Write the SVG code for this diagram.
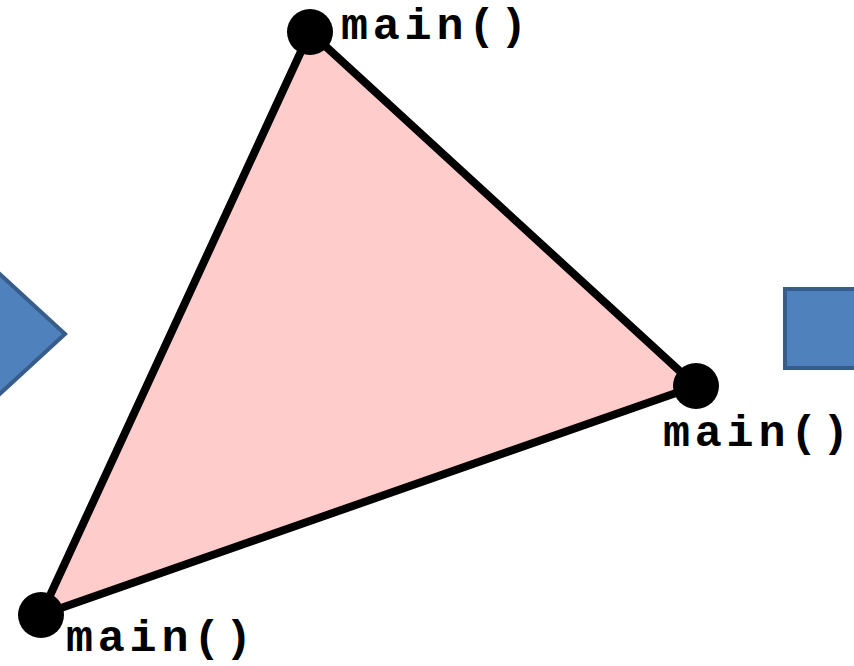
<svg xmlns="http://www.w3.org/2000/svg" width="854" height="666" viewBox="0 0 854 666">
<style>
.shape{fill:#4F81BD;stroke:#385D8A;stroke-width:4}
.lbl{font-family:"Liberation Mono","Courier New",monospace;font-weight:bold;font-size:45px;fill:#000}
.vtx{fill:#000}
</style>
<rect width="854" height="666" fill="#fff"/>
<g id="left-arrow"><polygon class="shape" points="-10,265 65,334 -10,403"/></g>
<g id="right-square"><rect class="shape" x="785" y="289" width="80" height="79"/></g>
<g id="connectors"><polygon points="310,32 696,386 41,615" fill="#FFCCCC" stroke="#000" stroke-width="8" stroke-linejoin="round"/></g>
<g id="node-top"><circle class="vtx" cx="310" cy="32" r="23"/><text class="lbl" x="341" y="39" textLength="186" lengthAdjust="spacing">main()</text></g>
<g id="node-right"><circle class="vtx" cx="696" cy="386" r="23"/><text class="lbl" x="663" y="446" textLength="186" lengthAdjust="spacing">main()</text></g>
<g id="node-bottom"><circle class="vtx" cx="41" cy="615" r="23"/><text class="lbl" x="66" y="651" textLength="186" lengthAdjust="spacing">main()</text></g>
</svg>
